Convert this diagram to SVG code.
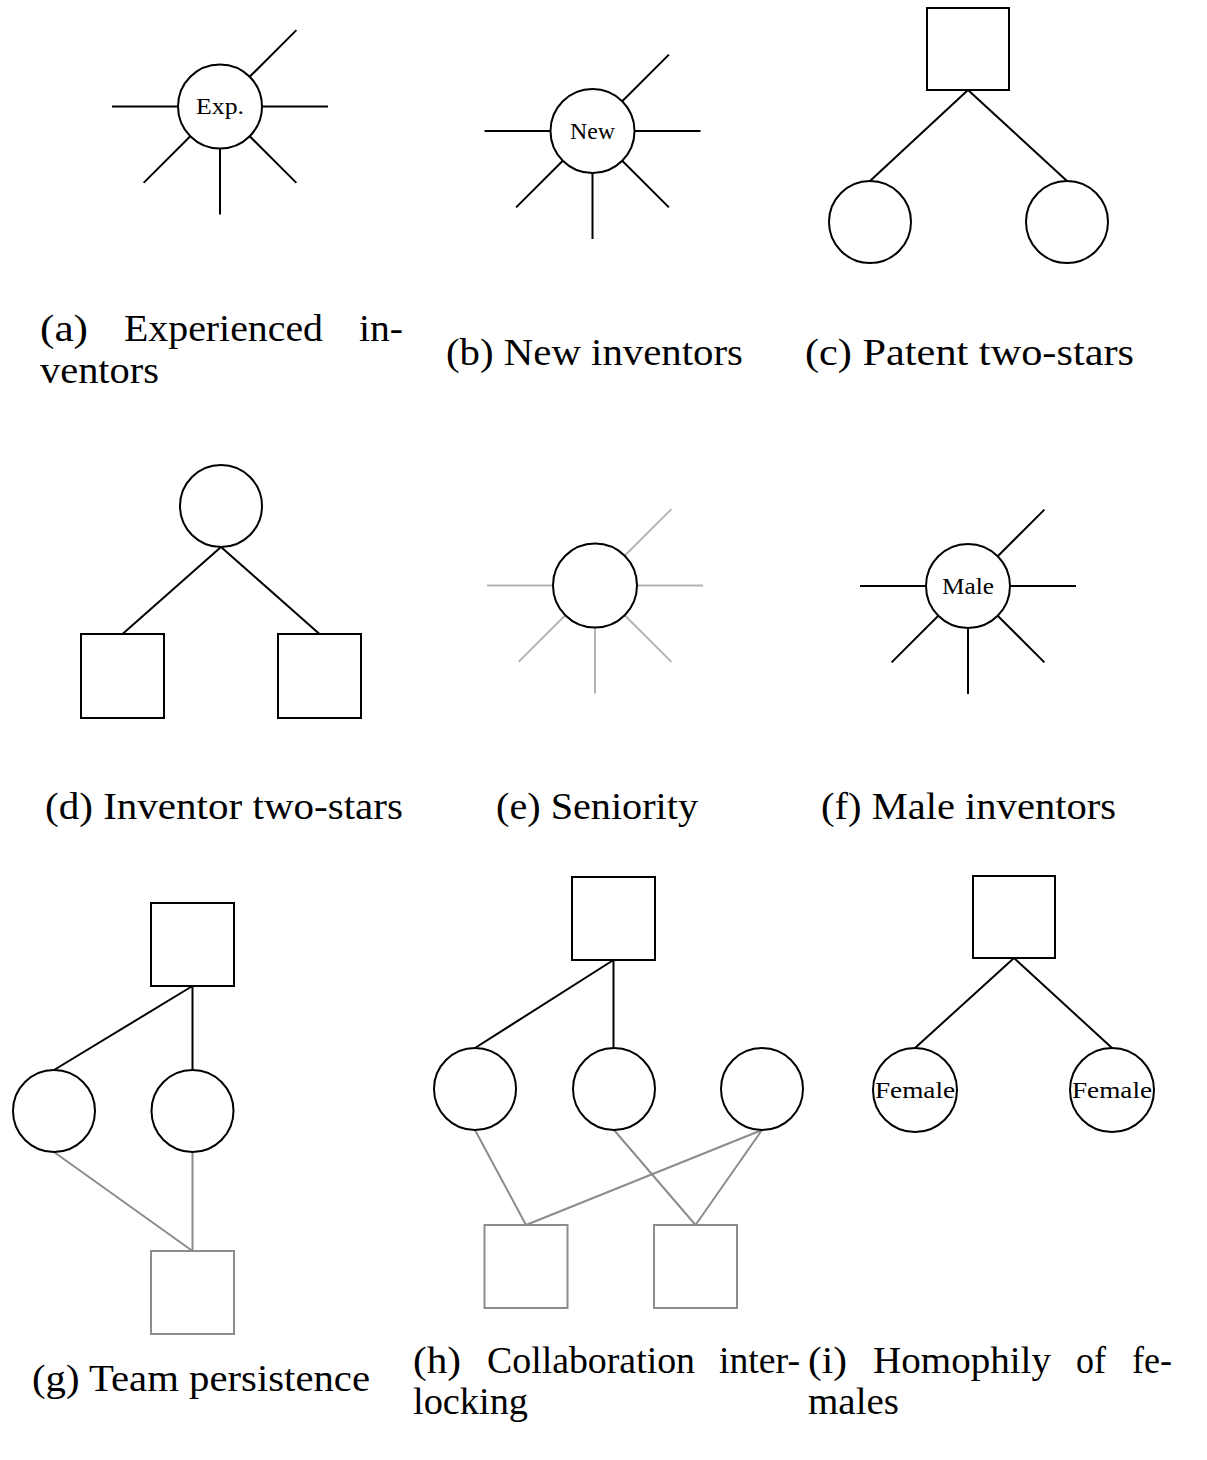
<svg xmlns="http://www.w3.org/2000/svg" width="1207" height="1460" viewBox="0 0 1207 1460">
<style>
.n{fill:#fff;stroke:#000;stroke-width:2}
.g{fill:#fff;stroke:#8c8c8c;stroke-width:2}
.e{stroke:#000;stroke-width:2;fill:none}
.el{stroke:#b3b3b3;stroke-width:2;fill:none}
.eg{stroke:#8c8c8c;stroke-width:2;fill:none}
.lbl{font-family:"Liberation Serif","Times New Roman",serif;font-size:24px;fill:#000}
.cap{font-family:"Liberation Serif","Times New Roman",serif;font-size:37px;fill:#000}
</style>
<rect width="1207" height="1460" fill="#fff"/>
<g id="connectors">
<path class="e" d="M178 106.5H112 M262 106.5H328 M249.7 76.8L296.4 30.1 M190.3 136.2L143.6 182.9 M249.7 136.2L296.4 182.9 M220 148.5V214.5"/>
<path class="e" d="M550.5 131H484.5 M634.5 131H700.5 M622.2 101.3L668.9 54.6 M562.8 160.7L516.1 207.4 M622.2 160.7L668.9 207.4 M592.5 173V239"/>
<path class="e" d="M968 90L870 181 M968 90L1067 181"/>
<path class="e" d="M221 547L122.5 634 M221 547L319.5 634"/>
<path class="el" d="M553 585.5H487 M637 585.5H703 M624.7 555.8L671.4 509.1 M565.3 615.2L518.6 661.9 M624.7 615.2L671.4 661.9 M595 627.5V693.5"/>
<path class="e" d="M926 586H860 M1010 586H1076 M997.7 556.3L1044.4 509.6 M938.3 615.7L891.6 662.4 M997.7 615.7L1044.4 662.4 M968 628V694"/>
<path class="e" d="M192.5 986L54 1070 M192.5 986V1070"/>
<path class="eg" d="M54 1152L192.5 1251 M192.5 1152V1251"/>
<path class="e" d="M613.5 960L475 1048 M613.5 960V1048"/>
<path class="eg" d="M475 1130L526 1225 M762 1130L526 1225 M614 1130L695.5 1225 M762 1130L695.5 1225"/>
<path class="e" d="M1014 958L915 1048 M1014 958L1112 1048"/>
</g>
<g id="a-exp"><circle class="n" cx="220" cy="106.5" r="42"/><text class="lbl" x="196" y="114" textLength="48" lengthAdjust="spacingAndGlyphs">Exp.</text></g>
<g id="b-new"><circle class="n" cx="592.5" cy="131" r="42"/><text class="lbl" x="570" y="138.5" textLength="45" lengthAdjust="spacingAndGlyphs">New</text></g>
<g id="c-patent"><rect class="n" x="927" y="8" width="82" height="82"/></g>
<g id="c-inv1"><circle class="n" cx="870" cy="222" r="41"/></g>
<g id="c-inv2"><circle class="n" cx="1067" cy="222" r="41"/></g>
<g id="d-inv"><circle class="n" cx="221" cy="506" r="41"/></g>
<g id="d-pat1"><rect class="n" x="81" y="634" width="83" height="84"/></g>
<g id="d-pat2"><rect class="n" x="278" y="634" width="83" height="84"/></g>
<g id="e-sen"><circle class="n" cx="595" cy="585.5" r="42"/></g>
<g id="f-male"><circle class="n" cx="968" cy="586" r="42"/><text class="lbl" x="942" y="594" textLength="52" lengthAdjust="spacingAndGlyphs">Male</text></g>
<g id="g-pat"><rect class="n" x="151" y="903" width="83" height="83"/></g>
<g id="g-inv1"><circle class="n" cx="54" cy="1111" r="41"/></g>
<g id="g-inv2"><circle class="n" cx="192.5" cy="1111" r="41"/></g>
<g id="g-pat2"><rect class="g" x="151" y="1251" width="83" height="83"/></g>
<g id="h-pat"><rect class="n" x="572" y="877" width="83" height="83"/></g>
<g id="h-inv1"><circle class="n" cx="475" cy="1089" r="41"/></g>
<g id="h-inv2"><circle class="n" cx="614" cy="1089" r="41"/></g>
<g id="h-inv3"><circle class="n" cx="762" cy="1089" r="41"/></g>
<g id="h-pat2"><rect class="g" x="484.5" y="1225" width="83" height="83"/></g>
<g id="h-pat3"><rect class="g" x="654" y="1225" width="83" height="83"/></g>
<g id="i-pat"><rect class="n" x="973" y="876" width="82" height="82"/></g>
<g id="i-fem1"><circle class="n" cx="915" cy="1090" r="42"/><text class="lbl" x="875" y="1098" textLength="80" lengthAdjust="spacingAndGlyphs">Female</text></g>
<g id="i-fem2"><circle class="n" cx="1112" cy="1090" r="42"/><text class="lbl" x="1072" y="1098" textLength="80" lengthAdjust="spacingAndGlyphs">Female</text></g>
<g id="captions">
<text class="cap" x="40" y="341" textLength="48" lengthAdjust="spacingAndGlyphs">(a)</text>
<text class="cap" x="124" y="341" textLength="199" lengthAdjust="spacingAndGlyphs">Experienced</text>
<text class="cap" x="359" y="341" textLength="44" lengthAdjust="spacingAndGlyphs">in-</text>
<text class="cap" x="40" y="383" textLength="119" lengthAdjust="spacingAndGlyphs">ventors</text>
<text class="cap" x="446" y="365" textLength="297" lengthAdjust="spacingAndGlyphs">(b) New inventors</text>
<text class="cap" x="805" y="365" textLength="329" lengthAdjust="spacingAndGlyphs">(c) Patent two-stars</text>
<text class="cap" x="45" y="819" textLength="358" lengthAdjust="spacingAndGlyphs">(d) Inventor two-stars</text>
<text class="cap" x="496" y="819" textLength="202" lengthAdjust="spacingAndGlyphs">(e) Seniority</text>
<text class="cap" x="821" y="819" textLength="295" lengthAdjust="spacingAndGlyphs">(f) Male inventors</text>
<text class="cap" x="32" y="1391" textLength="338" lengthAdjust="spacingAndGlyphs">(g) Team persistence</text>
<text class="cap" x="413" y="1373" textLength="48" lengthAdjust="spacingAndGlyphs">(h)</text>
<text class="cap" x="487" y="1373" textLength="208" lengthAdjust="spacingAndGlyphs">Collaboration</text>
<text class="cap" x="719" y="1373" textLength="81" lengthAdjust="spacingAndGlyphs">inter-</text>
<text class="cap" x="413" y="1414" textLength="115" lengthAdjust="spacingAndGlyphs">locking</text>
<text class="cap" x="808" y="1373" textLength="39" lengthAdjust="spacingAndGlyphs">(i)</text>
<text class="cap" x="873" y="1373" textLength="178" lengthAdjust="spacingAndGlyphs">Homophily</text>
<text class="cap" x="1076" y="1373" textLength="30" lengthAdjust="spacingAndGlyphs">of</text>
<text class="cap" x="1132" y="1373" textLength="40" lengthAdjust="spacingAndGlyphs">fe-</text>
<text class="cap" x="808" y="1414" textLength="91" lengthAdjust="spacingAndGlyphs">males</text>
</g>
</svg>
